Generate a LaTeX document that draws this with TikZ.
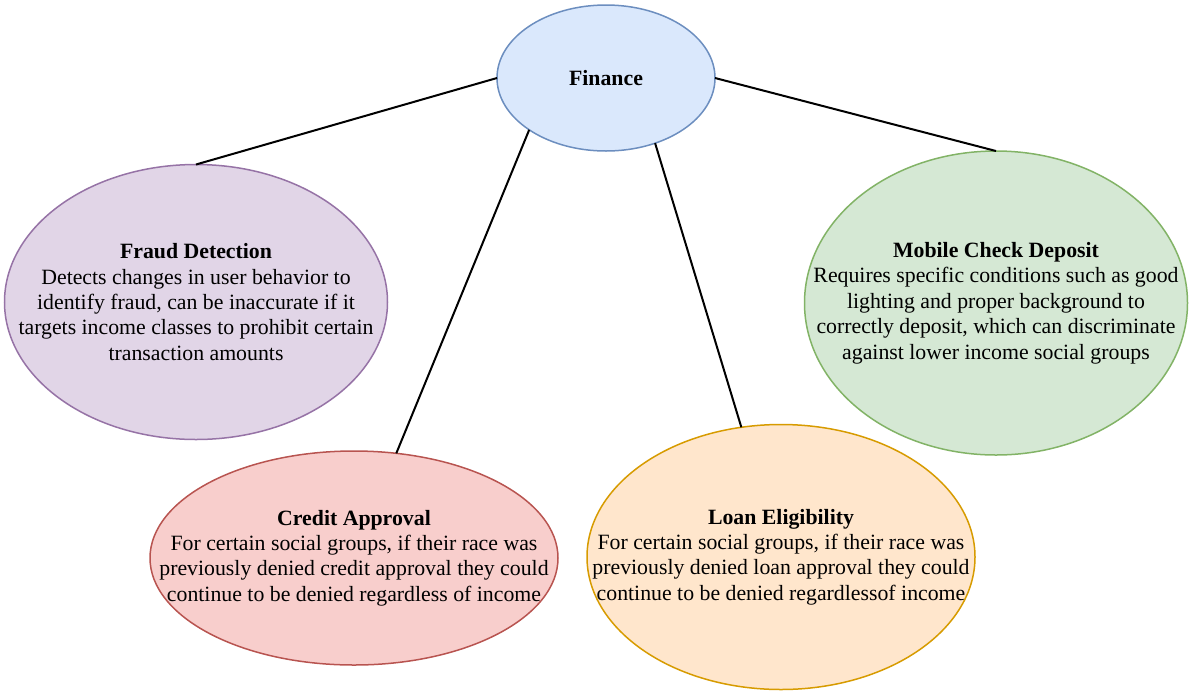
\documentclass[tikz,border=0pt]{standalone}
\usepackage{fontspec}
\setmainfont{Liberation Serif}
\usetikzlibrary{shapes.geometric}

\definecolor{finfill}{HTML}{DAE8FC}
\definecolor{finline}{HTML}{6C8EBF}
\definecolor{fraudfill}{HTML}{E1D5E7}
\definecolor{fraudline}{HTML}{9673A6}
\definecolor{mobfill}{HTML}{D5E8D4}
\definecolor{mobline}{HTML}{82B366}
\definecolor{credfill}{HTML}{F8CECC}
\definecolor{credline}{HTML}{B85450}
\definecolor{loanfill}{HTML}{FFE6CC}
\definecolor{loanline}{HTML}{D79B00}

\begin{document}
\begin{tikzpicture}[x=0.5pt, y=-0.5pt,
	blob/.style={ellipse, draw, line width=0.75pt, inner sep=0pt, outer sep=0pt},
	txt/.style={align=center, font=\fontsize{10.9}{12.7}\selectfont},
	edge/.style={line width=1pt, black}]
				%\draw[help lines] (0,0) grid (1189,692);
				\useasboundingbox (0,0) rectangle (1189,692);
				
				\node[blob, fill=finfill, draw=finline,
				minimum width=109pt, minimum height=73pt] (fin) at (606,78) {};
				\node[blob, fill=fraudfill, draw=fraudline,
				minimum width=191.5pt, minimum height=137.5pt] (fraud) at (196,302) {};
				\node[blob, fill=mobfill, draw=mobline,
				minimum width=191.5pt, minimum height=152pt] (mobile) at (996,303) {};
				\node[blob, fill=credfill, draw=credline,
				minimum width=204pt, minimum height=107pt] (credit) at (354,558) {};
				\node[blob, fill=loanfill, draw=loanline,
				minimum width=194pt, minimum height=132.5pt] (loan) at (781,557) {};
				
				\node[txt] (fintxt) at (fin) {\textbf{Finance}};
				\node[txt] (fraudtxt) at (fraud) {\textbf{Fraud Detection}\\
					Detects changes in user behavior to\\
					identify fraud, can be inaccurate if it\\
					targets income classes to prohibit certain\\
					transaction amounts};
				\node[txt] (mobtxt) at (mobile) {\textbf{Mobile Check Deposit}\\
					Requires specific conditions such as good\\
					lighting and proper background to\\
					correctly deposit, which can discriminate\\
					against lower income social groups};
				\node[txt] (credtxt) at (credit) {\textbf{Credit Approval}\\
					For certain social groups, if their race was\\
					previously denied credit approval they could\\
					continue to be denied regardless of income};
				\node[txt] (loantxt) at (loan) {\textbf{Loan Eligibility}\\
					For certain social groups, if their race was\\
					previously denied loan approval they could\\
					continue to be denied regardlessof income};
				
				\draw[edge] (fin.west) -- (fraud.north);
				\draw[edge] (fin.214) -- (credit.68);
				\draw[edge] (fin.307) -- (loan.107);
				\draw[edge] (fin.east) -- (mobile.north);
			\end{tikzpicture}
\end{document}
